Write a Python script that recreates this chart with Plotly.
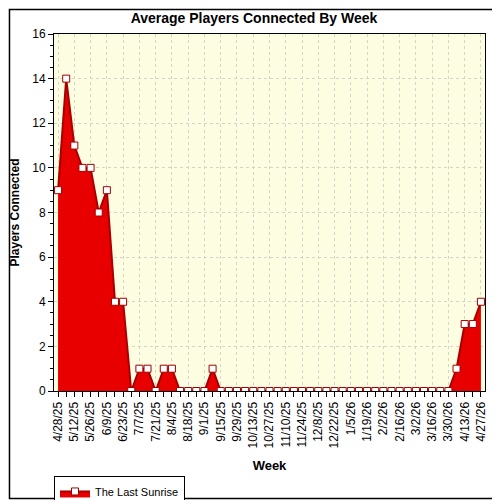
import pandas as pd
import plotly.graph_objects as go

# weekly averages, one value per week starting 4/28/25
week_start = "2025-04-28"
players = [9, 14, 11, 10, 10, 8, 9, 4, 4, 0,
           1, 1, 0, 1, 1, 0, 0, 0, 0, 1,
           0, 0, 0, 0, 0, 0, 0, 0, 0, 0,
           0, 0, 0, 0, 0, 0, 0, 0, 0, 0,
           0, 0, 0, 0, 0, 0, 0, 0, 0, 1,
           3, 3, 4]

tick_labels = ["4/28/25", "5/12/25", "5/26/25", "6/9/25", "6/23/25", "7/7/25",
               "7/21/25", "8/4/25", "8/18/25", "9/1/25", "9/15/25", "9/29/25",
               "10/13/25", "10/27/25", "11/10/25", "11/24/25", "12/8/25",
               "12/22/25", "1/5/26", "1/19/26", "2/2/26", "2/16/26", "3/2/26",
               "3/16/26", "3/30/26", "4/13/26", "4/27/26"]

weeks = pd.date_range(week_start, periods=len(players), freq="7D")
half_week = pd.Timedelta(days=3.5)

fig = go.Figure()
fig.add_trace(go.Scatter(
    x=weeks, y=players,
    name="The Last Sunrise",
    mode="lines+markers",
    fill="tozeroy",
    fillcolor="#E80000",
    line=dict(color="#A80000", width=2),
    marker=dict(symbol="square", size=7, color="white",
                line=dict(color="#A00000", width=1)),
))

# the page body has an 8px margin, so the figure is 492 px and sits at (8, 8)
fig.update_layout(
    width=492, height=492,
    margin=dict(l=46, r=15, t=26, b=109, autoexpand=False),
    paper_bgcolor="white",
    plot_bgcolor="#FDFDE2",
    font=dict(family="Liberation Sans, Arial", size=12, color="black"),
    title=dict(text="<b>Average Players Connected By Week</b>",
               x=0.5, xanchor="center", y=0.98, yanchor="middle",
               font=dict(size=14)),
    showlegend=True,
    legend=dict(x=0, y=-0.238, xanchor="left", yanchor="top",
                bordercolor="black", borderwidth=1, bgcolor="white",
                font=dict(size=11), itemwidth=30, tracegroupgap=0),
    shapes=[dict(type="rect", xref="paper", yref="paper",
                 x0=-0.1033, x1=1.0313, y0=-0.3011, y1=1.0686,
                 line=dict(color="black", width=1.5), layer="above")],
)

fig.update_xaxes(
    automargin=False,
    range=[weeks[0] - half_week, weeks[-1] + half_week],
    tickmode="array", tickvals=weeks[::2], ticktext=tick_labels,
    tickangle=-90, ticks="outside", ticklen=5, tickcolor="black",
    minor=dict(dtick=7 * 86400000, tick0=week_start, ticks="outside",
               ticklen=5, tickcolor="black", showgrid=False),
    showline=True, linecolor="black", linewidth=1, mirror=True,
    showgrid=True, gridcolor="#D4D4C8", griddash="dot", gridwidth=1,
    title=dict(text="<b>Week</b>", font=dict(size=13), standoff=13),
    zeroline=False,
)
fig.update_yaxes(
    automargin=False,
    range=[0, 16], dtick=2, ticks="outside", ticklen=5, tickcolor="black",
    minor=dict(dtick=0.5, ticks="outside", ticklen=3, tickcolor="black",
               showgrid=False),
    showline=True, linecolor="black", linewidth=1, mirror=True,
    showgrid=True, gridcolor="#D4D4C8", griddash="dot", gridwidth=1,
    title=dict(text="<b>Players Connected</b>", font=dict(size=12), standoff=10),
    zeroline=False,
)

fig.write_html("out.html")
